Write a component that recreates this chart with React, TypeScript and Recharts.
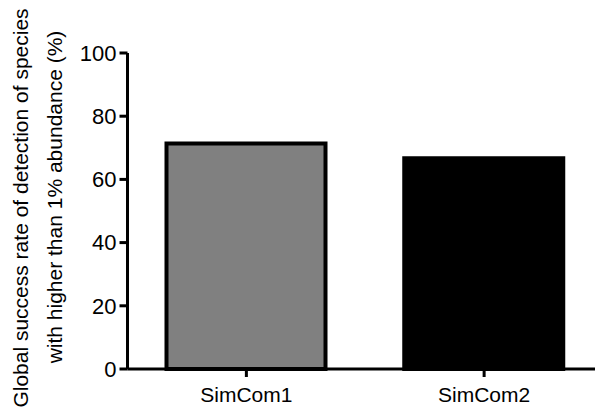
import React from 'react';
import { BarChart, Bar, XAxis, YAxis, Cell } from 'recharts';

const categories = ['SimCom1', 'SimCom2'];
const successRates = [71.4, 66.7];
const yTicks = [0, 20, 40, 60, 80, 100];
const yLabelLines = [
  'Global success rate of detection of species',
  'with higher than 1% abundance (%)',
];
const barColors = ['#808080', '#000000'];

const data = categories.map((c, i) => ({ name: c, value: successRates[i] }));

const FONT = '"Liberation Sans", Arial, sans-serif';

const YLabel = () => (
  <g>
    <text
      x={0}
      y={0}
      transform="translate(28, 208) rotate(-90)"
      textAnchor="middle"
      fontSize={21}
      fontFamily={FONT}
      fill="#000"
    >
      {yLabelLines[0]}
    </text>
    <text
      x={0}
      y={0}
      transform="translate(62, 197) rotate(-90)"
      textAnchor="middle"
      fontSize={21}
      fontFamily={FONT}
      fill="#000"
    >
      {yLabelLines[1]}
    </text>
  </g>
);

export default function App() {
  return (
    <div
      style={{
        position: 'absolute',
        left: 0,
        top: 0,
        width: 595,
        height: 416,
        overflow: 'hidden',
        background: '#fff',
      }}
    >
      <BarChart
        width={605}
        height={416}
        data={data}
        margin={{ top: 53, right: 2, left: 0, bottom: 0 }}
        barCategoryGap={0}
      >
        <XAxis
          dataKey="name"
          height={47}
          axisLine={{ stroke: '#000', strokeWidth: 3 }}
          tickLine={{ stroke: '#000', strokeWidth: 3 }}
          tickSize={8}
          tickMargin={10}
          tick={{ fill: '#000', fontSize: 21, fontFamily: FONT }}
          interval={0}
        />
        <YAxis
          width={127.5}
          domain={[0, 100]}
          ticks={yTicks}
          interval={0}
          axisLine={{ stroke: '#000', strokeWidth: 3 }}
          tickLine={{ stroke: '#000', strokeWidth: 3 }}
          tickSize={8}
          tickMargin={3}
          tick={{ fill: '#000', fontSize: 22, fontFamily: FONT }}
          label={{ content: () => <YLabel /> }}
        />
        <Bar
          dataKey="value"
          barSize={159}
          stroke="#000"
          strokeWidth={4}
          isAnimationActive={false}
        >
          {data.map((d, i) => (
            <Cell key={d.name} fill={barColors[i]} />
          ))}
        </Bar>
      </BarChart>
    </div>
  );
}
